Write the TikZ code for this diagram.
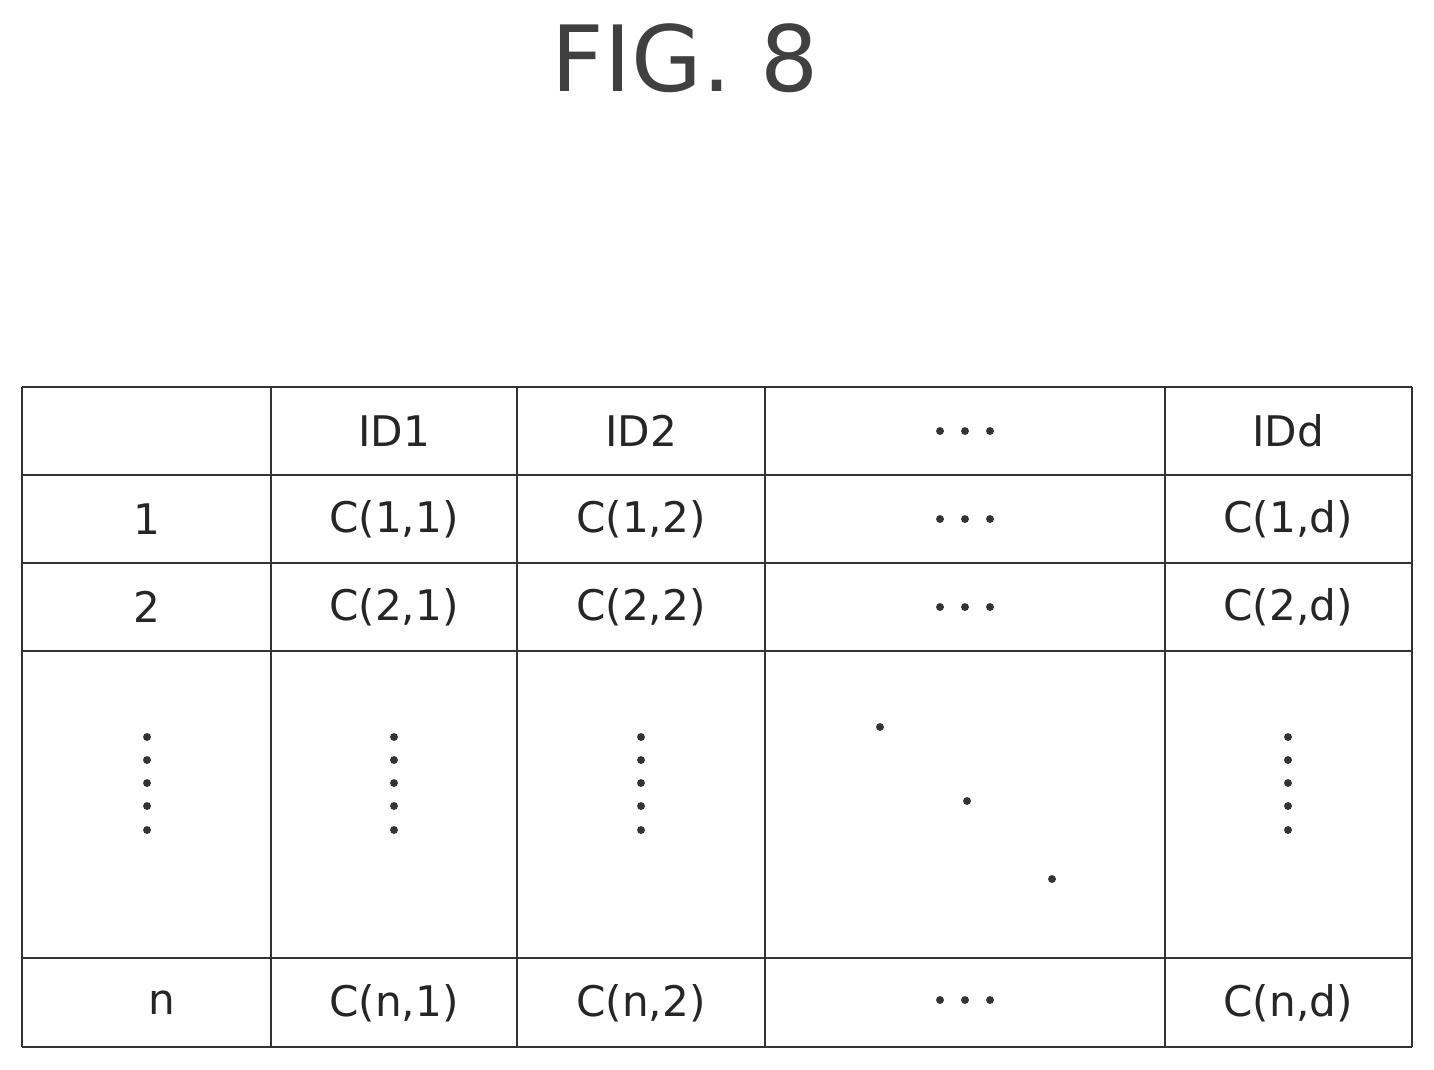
\documentclass[tikz,border=0pt]{standalone}
\usepackage{fontspec}
\setmainfont{DejaVu Sans}
\begin{document}
\begin{tikzpicture}[x=0.02cm,y=-0.02cm,
  cell/.style={font=\fontsize{24}{28}\selectfont, text=black!85},
  grid/.style={line width=1.3pt, black!80},
  dot/.style={circle, fill=black!80, inner sep=0pt, minimum size=4.5pt}]
\useasboundingbox (0,0) rectangle (1434,1069);
\node[font=\fontsize{52}{60}\selectfont, text=black!75] (title) at (685,58) {FIG. 8};
\foreach \x in {22,271,517,765,1165,1412} \draw[grid] (\x,387) -- (\x,1047);
\foreach \y in {387,475,563,651,958,1047} \draw[grid] (22,\y) -- (1412,\y);
% header
\node[cell] (h1) at (394,431) {ID1};
\node[cell] (h2) at (641,431) {ID2};
\node[cell] (hd) at (1288,431) {IDd};
% rows
\node[cell] (r1) at (147,519) {1};
\node[cell] (r2) at (147,607) {2};
\node[cell] (rn) at (162,1003) {n};
\node[cell] (c11) at (394,519) {C(1,1)};
\node[cell] (c12) at (641,519) {C(1,2)};
\node[cell] (c1d) at (1288,519) {C(1,d)};
\node[cell] (c21) at (394,607) {C(2,1)};
\node[cell] (c22) at (641,607) {C(2,2)};
\node[cell] (c2d) at (1288,607) {C(2,d)};
\node[cell] (cn1) at (394,1003) {C(n,1)};
\node[cell] (cn2) at (641,1003) {C(n,2)};
\node[cell] (cnd) at (1288,1003) {C(n,d)};
% horizontal dots
\foreach \y [count=\i] in {431,519,607,1000}
  \foreach \x [count=\j] in {940,965,990} \node[dot] (hdot\i\j) at (\x,\y) {};
% vertical dots
\foreach \x [count=\i] in {147,394,641,1288}
  \foreach \y [count=\j] in {737,760,783,806,830} \node[dot] (vdot\i\j) at (\x,\y) {};
% diagonal
\node[dot] (dg1) at (880,727) {};
\node[dot] (dg2) at (967,801) {};
\node[dot] (dg3) at (1052,879) {};
\end{tikzpicture}
\end{document}
